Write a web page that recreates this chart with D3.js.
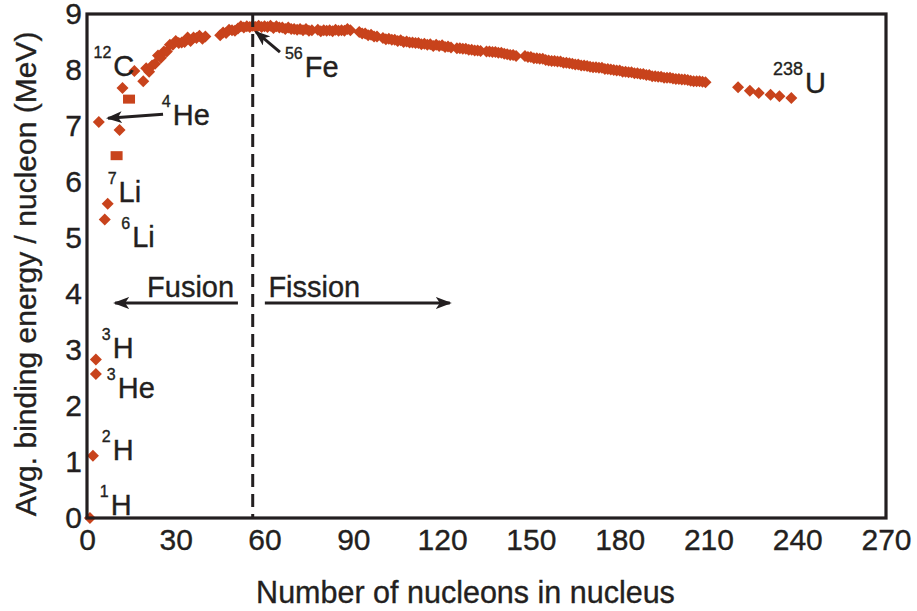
<!DOCTYPE html>
<html>
<head>
<meta charset="utf-8">
<script src="https://cdn.jsdelivr.net/npm/d3@7"></script>
<style>
  body { margin: 0; background: #fff; }
  text { font-family: "Liberation Sans", Arial, Helvetica, sans-serif; fill: #231f20; stroke: #231f20; stroke-width: 0.35px; }
</style>
</head>
<body>
<svg id="chart" width="917" height="611"></svg>
<script>
// nucleons in nucleus (A) and avg binding energy per nucleon (MeV)
const nucleons = [
  1, 2, 3, 3, 4, 6, 7, 11, 12, 16, 19,
  20, 21, 22, 23, 24, 25, 26, 27, 28, 29, 30, 31, 32, 33, 34, 35, 36, 37, 38, 39, 40,
  45, 46, 47, 48, 49, 50, 51, 52, 53, 54, 55, 56, 57, 58, 59, 60, 61, 62, 63, 64, 65, 66, 67, 68, 69, 70,
  71, 72, 73, 74, 75, 76, 78, 79, 80, 81, 82, 83, 84, 85, 86, 87, 88, 89,
  92, 93, 94, 95, 96, 97, 98,
  100, 101, 102, 103, 104, 105, 106, 107, 108, 109, 110, 111, 112, 113, 114, 115, 116, 117, 118, 119, 120, 121, 122, 123,
  125, 126, 127, 128, 129, 130, 131, 132, 133,
  135, 136, 137, 138, 139, 140, 141, 142, 143, 144, 145,
  148, 149, 150, 151, 152, 153, 154, 155, 156, 157, 158, 159, 160, 161, 162, 163, 164, 165, 166, 167, 168, 169, 170,
  171, 172, 173, 174, 175, 176, 177, 178, 179, 180, 181, 182, 183, 184, 185, 186, 187, 188, 189, 190,
  191, 192, 193, 194, 195, 196, 197, 198, 199, 200, 201, 202, 203, 204, 205, 206, 207, 208, 209,
  220, 224, 227, 231, 234, 238
];
const bindingEnergy = [
  0.00, 1.11, 2.83, 2.57, 7.07, 5.33, 5.61, 6.93, 7.68, 7.98, 7.80,
  8.03, 7.97, 8.08, 8.11, 8.26, 8.22, 8.33, 8.33, 8.45, 8.45, 8.52, 8.48, 8.49, 8.50, 8.58, 8.52, 8.58, 8.57, 8.61, 8.56, 8.60,
  8.62, 8.67, 8.66, 8.72, 8.71, 8.70, 8.74, 8.78, 8.76, 8.78, 8.77, 8.79, 8.77, 8.79, 8.77, 8.78, 8.77, 8.79, 8.75, 8.78, 8.76, 8.76, 8.73, 8.76, 8.73, 8.73,
  8.72, 8.73, 8.71, 8.73, 8.70, 8.71, 8.72, 8.69, 8.71, 8.70, 8.71, 8.69, 8.72, 8.70, 8.71, 8.70, 8.73, 8.71,
  8.68, 8.65, 8.65, 8.62, 8.63, 8.60, 8.60,
  8.57, 8.55, 8.56, 8.54, 8.54, 8.52, 8.53, 8.50, 8.51, 8.49, 8.49, 8.48, 8.48, 8.46, 8.47, 8.45, 8.46, 8.43, 8.45, 8.43, 8.44, 8.41, 8.42, 8.40,
  8.39, 8.39, 8.38, 8.38, 8.36, 8.36, 8.35, 8.35, 8.34,
  8.33, 8.33, 8.32, 8.32, 8.31, 8.31, 8.29, 8.28, 8.27, 8.27, 8.25,
  8.25, 8.23, 8.23, 8.21, 8.21, 8.20, 8.20, 8.18, 8.17, 8.16, 8.16, 8.15, 8.15, 8.13, 8.13, 8.12, 8.11, 8.10, 8.10, 8.08, 8.08, 8.07, 8.06,
  8.05, 8.05, 8.04, 8.04, 8.02, 8.02, 8.01, 8.00, 7.99, 7.99, 7.97, 7.97, 7.96, 7.96, 7.94, 7.94, 7.93, 7.93, 7.91, 7.91,
  7.89, 7.89, 7.88, 7.88, 7.86, 7.86, 7.86, 7.85, 7.84, 7.84, 7.83, 7.83, 7.82, 7.81, 7.80, 7.80, 7.80, 7.79, 7.78,
  7.69, 7.63, 7.59, 7.56, 7.53, 7.50
];

// the two points that show up as small squares (9Be/10B and 13C/14N overlapping)
const boxNucleons = [10, 14.2];
const boxEnergy = [6.47, 7.48];

const xTicks = [0, 30, 60, 90, 120, 150, 180, 210, 240, 270];
const yTicks = [0, 1, 2, 3, 4, 5, 6, 7, 8, 9];

// isotope labels
const isoMass = ["12", "4", "7", "6", "3", "3", "2", "1", "56", "238"];
const isoSymbol = ["C", "He", "Li", "Li", "H", "He", "H", "H", "Fe", "U"];
const isoA = [2.2, 25.3, 7.0, 11.6, 5.0, 6.7, 5.0, 4.3, 66.9, 231.8];
const isoE = [7.89, 7.02, 5.64, 4.84, 2.86, 2.14, 1.04, 0.05, 7.875, 7.59];

const ironA = 56;

const svg = d3.select("#chart");
const W = 917, H = 611;
const margin = {top: 14, right: 31, bottom: 93, left: 87};

const x = d3.scaleLinear().domain([0, 270]).range([margin.left, W - margin.right]);
const y = d3.scaleLinear().domain([0, 9]).range([H - margin.bottom, margin.top]);

const ink = "#231f20";
const dotColor = "#c8431c";

// arrow head
svg.append("defs").append("marker")
    .attr("id", "head")
    .attr("viewBox", "0 0 16 12")
    .attr("refX", 14).attr("refY", 6)
    .attr("markerWidth", 16).attr("markerHeight", 12)
    .attr("markerUnits", "userSpaceOnUse")
    .attr("orient", "auto")
  .append("path")
    .attr("d", "M0,0 L16,6 L0,12 L4,6 Z")
    .attr("fill", ink);

// data points
const points = nucleons.map((a, i) => ({a: a, e: bindingEnergy[i]}));
const diamond = d3.symbol().type(d3.symbolSquare).size(72);

svg.append("g").selectAll("path")
    .data(points)
    .join("path")
    .attr("d", diamond)
    .attr("transform", d => `translate(${x(d.a)},${y(d.e)}) rotate(45)`)
    .attr("fill", dotColor);

svg.append("g").selectAll("rect")
    .data(boxNucleons.map((a, i) => ({a: a, e: boxEnergy[i]})))
    .join("rect")
    .attr("x", d => x(d.a) - 6)
    .attr("y", d => y(d.e) - 4.5)
    .attr("width", 12)
    .attr("height", 9)
    .attr("fill", dotColor);

// 56Fe divider
svg.append("line")
    .attr("x1", x(ironA)).attr("x2", x(ironA))
    .attr("y1", y(9)).attr("y2", y(0))
    .attr("stroke", ink)
    .attr("stroke-width", 3)
    .attr("stroke-dasharray", "13,7");

// frame
svg.append("rect")
    .attr("x", x(0)).attr("y", y(9))
    .attr("width", x(270) - x(0))
    .attr("height", y(0) - y(9))
    .attr("fill", "none")
    .attr("stroke", ink)
    .attr("stroke-width", 3.2);

// axes (labels only)
const xAxis = svg.append("g")
    .attr("transform", `translate(0,${y(0)})`)
    .call(d3.axisBottom(x).tickValues(xTicks).tickSize(0).tickPadding(11).tickFormat(d3.format("d")));
const yAxis = svg.append("g")
    .attr("transform", `translate(${x(0)},0)`)
    .call(d3.axisLeft(y).tickValues(yTicks).tickSize(0).tickPadding(5).tickFormat(d3.format("d")));

[xAxis, yAxis].forEach(g => {
    g.select(".domain").remove();
    g.selectAll("text")
        .style("font-family", '"Liberation Sans", Arial, sans-serif')
        .style("font-size", "30px")
        .attr("fill", ink);
});

// axis titles
svg.append("text")
    .attr("x", (x(0) + x(270)) / 2 - 21)
    .attr("y", 603)
    .attr("text-anchor", "middle")
    .style("font-size", "30.5px")
    .text("Number of nucleons in nucleus");

svg.append("text")
    .attr("transform", `translate(36,${(y(0) + y(9)) / 2 + 8}) rotate(-90)`)
    .attr("text-anchor", "middle")
    .style("font-size", "30px")
    .text("Avg. binding energy / nucleon (MeV)");

// isotope labels
isoMass.forEach((m, i) => {
    const t = svg.append("text")
        .attr("x", x(isoA[i]))
        .attr("y", y(isoE[i]));
    t.append("tspan")
        .attr("dy", -18)
        .style("font-size", m === "238" ? "18px" : "16px")
        .text(m);
    t.append("tspan")
        .attr("dy", 18)
        .attr("dx", 2)
        .style("font-size", "29px")
        .text(isoSymbol[i]);
});

// pointer arrows
const arrows = [
    {from: [25.7, 7.21], to: [7.1, 7.14]},
    {from: [65.2, 8.32], to: [57.1, 8.68]},
    {from: [51, 3.84], to: [9.5, 3.84]},
    {from: [60.1, 3.84], to: [122.6, 3.84]}
];
svg.append("g").selectAll("line")
    .data(arrows)
    .join("line")
    .attr("x1", d => x(d.from[0])).attr("y1", d => y(d.from[1]))
    .attr("x2", d => x(d.to[0])).attr("y2", d => y(d.to[1]))
    .attr("stroke", ink)
    .attr("stroke-width", 3)
    .attr("marker-end", "url(#head)");

svg.append("text")
    .attr("x", x(20.3)).attr("y", y(3.95))
    .style("font-size", "29px")
    .text("Fusion");
svg.append("text")
    .attr("x", x(61.3)).attr("y", y(3.95))
    .style("font-size", "29px")
    .text("Fission");
</script>
</body>
</html>
